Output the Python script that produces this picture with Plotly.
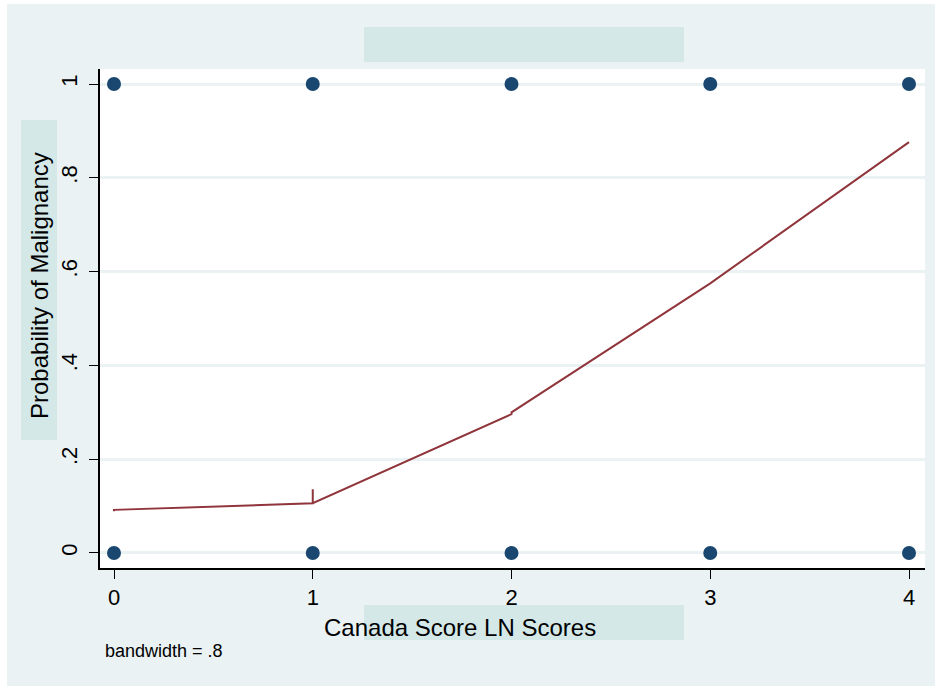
import plotly.graph_objects as go

# Observed outcomes (binary) at each Canada score
obs_x = [0, 1, 2, 3, 4, 0, 1, 2, 3, 4]
obs_y = [1, 1, 1, 1, 1, 0, 0, 0, 0, 0]

# Lowess smoothed curve (ties produce small jumps)
lowess_x = [0, 0, 1, 1, 1, 2, 2, 3, 4]
lowess_y = [0.089, 0.092, 0.106, 0.136, 0.106, 0.296, 0.300, 0.575, 0.876]

y_ticks = [0, 0.2, 0.4, 0.6, 0.8, 1]
y_labels = ["0", ".2", ".4", ".6", ".8", "1"]
x_ticks = [0, 1, 2, 3, 4]
x_labels = ["0", "1", "2", "3", "4"]

BG = "#eaf2f3"
BOX = "#d4e8e8"
FONT = "Liberation Sans, Arial, Helvetica, sans-serif"

W, H = 935, 686
L, R, T, B = 100, 925, 69, 568


def px(xp):
    return (xp - L) / (R - L)


def py(yp):
    return (B - yp) / (B - T)


fig = go.Figure()
fig.add_trace(go.Scatter(
    x=obs_x, y=obs_y, mode="markers",
    marker=dict(color="#1a476f", size=14, line=dict(width=0)),
    showlegend=False, cliponaxis=False,
))
fig.add_trace(go.Scatter(
    x=lowess_x, y=lowess_y, mode="lines",
    line=dict(color="#90353b", width=2),
    showlegend=False,
))

shapes = [
    dict(type="rect", xref="paper", yref="paper", layer="below",
         x0=px(7), x1=px(W + 5), y0=py(4), y1=py(H + 5),
         fillcolor=BG, line=dict(width=0)),
    dict(type="rect", xref="paper", yref="paper", layer="below",
         x0=0, x1=1, y0=0, y1=1, fillcolor="white", line=dict(width=0)),
    dict(type="rect", xref="paper", yref="paper", layer="below",
         x0=px(364), x1=px(684), y0=py(62), y1=py(27),
         fillcolor=BOX, line=dict(width=0)),
    dict(type="rect", xref="paper", yref="paper", layer="below",
         x0=px(364), x1=px(684), y0=py(640), y1=py(605),
         fillcolor=BOX, line=dict(width=0)),
    dict(type="rect", xref="paper", yref="paper", layer="below",
         x0=px(21), x1=px(57), y0=py(440), y1=py(120),
         fillcolor=BOX, line=dict(width=0)),
]

annotations = [
    dict(text="Canada Score LN Scores", xref="paper", yref="paper",
         x=px(460), y=py(627), xanchor="center", yanchor="middle",
         showarrow=False, font=dict(family=FONT, size=24, color="black")),
    dict(text="Probability of Malignancy", xref="paper", yref="paper",
         x=px(39), y=py(286), xanchor="center", yanchor="middle",
         textangle=-90, showarrow=False,
         font=dict(family=FONT, size=24, color="black")),
    dict(text="bandwidth = .8", xref="paper", yref="paper",
         x=px(103), y=py(651), xanchor="left", yanchor="middle",
         showarrow=False, font=dict(family=FONT, size=18, color="black")),
]

fig.update_layout(
    width=W, height=H,
    margin=dict(l=L, r=W - R, t=T, b=H - B, pad=0),
    paper_bgcolor="white", plot_bgcolor="rgba(0,0,0,0)",
    shapes=shapes, annotations=annotations,
    font=dict(family=FONT, color="black"),
    xaxis=dict(
        range=[-0.0705, 4.0805], tickvals=x_ticks, ticktext=x_labels,
        showgrid=False, zeroline=False,
        showline=True, linecolor="black", linewidth=1.5,
        ticks="outside", ticklen=9, tickwidth=1.2, tickcolor="black",
        tickfont=dict(family=FONT, size=22, color="black"),
    ),
    yaxis=dict(
        range=[-0.032, 1.032], tickvals=y_ticks, ticktext=y_labels,
        tickangle=-90, ticklabelstandoff=3,
        showgrid=True, gridcolor=BG, gridwidth=2.5, zeroline=False,
        showline=True, linecolor="black", linewidth=1.5,
        ticks="outside", ticklen=9, tickwidth=1.2, tickcolor="black",
        tickfont=dict(family=FONT, size=22, color="black"),
    ),
)

fig.write_html("out.html")
